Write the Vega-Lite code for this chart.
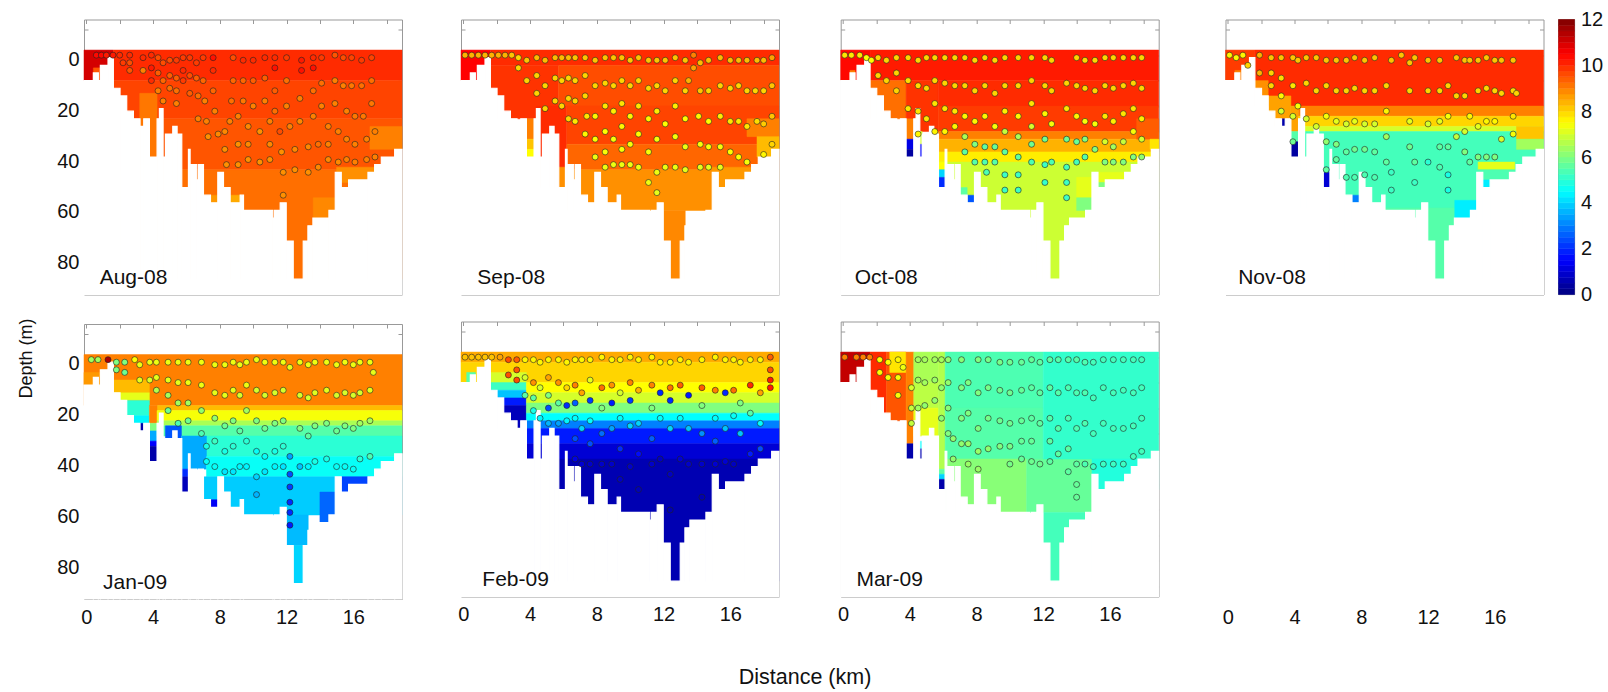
{"$schema":"https://vega.github.io/schema/vega-lite/v6.json","background":"white","padding":{"left":17,"top":8.5,"right":0,"bottom":8},"spacing":61.5,
"title":{"text":"Distance (km)","orient":"bottom","anchor":"middle","offset":39,"dx":-5,"font":"Liberation Sans","fontSize":21.5,"fontWeight":"normal","color":"#111111"},
"config":{"view":{"stroke":null},"font":"Liberation Sans","axis":{"grid":false,"title":null,"domain":true,"domainColor":"#999999","tickColor":"#999999","tickSize":-4,"zindex":1,"labelFont":"Liberation Sans","labelFontSize":20,"labelColor":"#111111","titleFont":"Liberation Sans","titleFontSize":18,"titleFontWeight":"normal","titleColor":"#111111","titleBaseline":"middle"},"axisX":{"tickCount":10,"labelPadding":12,"labelBaseline":"top"},"axisY":{"tickCount":10,"labelPadding":9,"labelOffset":4},"circle":{"size":36,"stroke":"#222222","strokeWidth":0.6,"opacity":1},"text":{"font":"Liberation Sans","fontSize":21,"align":"left","baseline":"alphabetic","color":"#111111"}},
"datasets":{
"bar":[{"a":0,"b":0.25,"v":0.13},{"a":0.25,"b":0.5,"v":0.38},{"a":0.5,"b":0.75,"v":0.63},{"a":0.75,"b":1,"v":0.88},{"a":1,"b":1.25,"v":1.13},{"a":1.25,"b":1.5,"v":1.38},{"a":1.5,"b":1.75,"v":1.63},{"a":1.75,"b":2,"v":1.88},{"a":2,"b":2.25,"v":2.13},{"a":2.25,"b":2.5,"v":2.38},{"a":2.5,"b":2.75,"v":2.63},{"a":2.75,"b":3,"v":2.88},{"a":3,"b":3.25,"v":3.13},{"a":3.25,"b":3.5,"v":3.38},{"a":3.5,"b":3.75,"v":3.63},{"a":3.75,"b":4,"v":3.88},{"a":4,"b":4.25,"v":4.13},{"a":4.25,"b":4.5,"v":4.38},{"a":4.5,"b":4.75,"v":4.63},{"a":4.75,"b":5,"v":4.88},{"a":5,"b":5.25,"v":5.13},{"a":5.25,"b":5.5,"v":5.38},{"a":5.5,"b":5.75,"v":5.63},{"a":5.75,"b":6,"v":5.88},{"a":6,"b":6.25,"v":6.13},{"a":6.25,"b":6.5,"v":6.38},{"a":6.5,"b":6.75,"v":6.63},{"a":6.75,"b":7,"v":6.88},{"a":7,"b":7.25,"v":7.13},{"a":7.25,"b":7.5,"v":7.38},{"a":7.5,"b":7.75,"v":7.63},{"a":7.75,"b":8,"v":7.88},{"a":8,"b":8.25,"v":8.13},{"a":8.25,"b":8.5,"v":8.38},{"a":8.5,"b":8.75,"v":8.63},{"a":8.75,"b":9,"v":8.88},{"a":9,"b":9.25,"v":9.13},{"a":9.25,"b":9.5,"v":9.38},{"a":9.5,"b":9.75,"v":9.63},{"a":9.75,"b":10,"v":9.88},{"a":10,"b":10.25,"v":10.13},{"a":10.25,"b":10.5,"v":10.38},{"a":10.5,"b":10.75,"v":10.63},{"a":10.75,"b":11,"v":10.88},{"a":11,"b":11.25,"v":11.13},{"a":11.25,"b":11.5,"v":11.38},{"a":11.5,"b":11.75,"v":11.63},{"a":11.75,"b":12,"v":11.88}],
"mask":[{"x":-0.14,"x2":0.42,"y":10,"y2":94},{"x":0.42,"x2":0.72,"y":7,"y2":94},{"x":0.72,"x2":0.84,"y":10,"y2":94},{"x":0.84,"x2":1.3,"y":4,"y2":94},{"x":1.3,"x2":1.62,"y":1,"y2":94},{"x":1.62,"x2":2.02,"y":13,"y2":94},{"x":2.02,"x2":2.42,"y":16,"y2":94},{"x":2.42,"x2":2.82,"y":22,"y2":94},{"x":2.82,"x2":3.22,"y":25,"y2":94},{"x":3.22,"x2":3.44,"y":28,"y2":94},{"x":3.44,"x2":3.78,"y":25,"y2":94},{"x":3.78,"x2":4.24,"y":40,"y2":94},{"x":4.24,"x2":4.38,"y":25,"y2":94},{"x":4.38,"x2":4.6,"y":21,"y2":94},{"x":4.6,"x2":4.74,"y":40,"y2":94},{"x":4.74,"x2":5.18,"y":31,"y2":94},{"x":5.18,"x2":5.44,"y":28,"y2":94},{"x":5.44,"x2":5.72,"y":31,"y2":94},{"x":5.72,"x2":6.12,"y":52,"y2":94},{"x":6.12,"x2":6.22,"y":37,"y2":94},{"x":6.22,"x2":6.62,"y":43,"y2":94},{"x":6.62,"x2":6.72,"y":49,"y2":94},{"x":6.72,"x2":7.02,"y":43,"y2":94},{"x":7.02,"x2":7.44,"y":55,"y2":94},{"x":7.44,"x2":7.88,"y":58,"y2":94},{"x":7.88,"x2":8.22,"y":46,"y2":94},{"x":8.22,"x2":8.62,"y":52,"y2":94},{"x":8.62,"x2":9.22,"y":58,"y2":94},{"x":9.22,"x2":9.42,"y":55,"y2":94},{"x":9.42,"x2":11.18,"y":61,"y2":94},{"x":11.18,"x2":11.28,"y":64,"y2":94},{"x":11.28,"x2":11.62,"y":61,"y2":94},{"x":11.62,"x2":11.98,"y":58,"y2":94},{"x":11.98,"x2":12.4,"y":73,"y2":94},{"x":12.4,"x2":13,"y":88,"y2":94},{"x":13,"x2":13.28,"y":73,"y2":94},{"x":13.28,"x2":13.58,"y":67,"y2":94},{"x":13.58,"x2":14.54,"y":64,"y2":94},{"x":14.54,"x2":14.92,"y":61,"y2":94},{"x":14.92,"x2":15.28,"y":46,"y2":94},{"x":15.28,"x2":15.72,"y":52,"y2":94},{"x":15.72,"x2":16.88,"y":49,"y2":94},{"x":16.88,"x2":17.28,"y":46,"y2":94},{"x":17.28,"x2":17.68,"y":43,"y2":94},{"x":17.68,"x2":18.48,"y":40,"y2":94},{"x":18.48,"x2":18.92,"y":37,"y2":94}],
"cells":[
{"p":0,"x":-0.14,"x2":1.62,"y":-2,"y2":10,"v":11},{"p":0,"x":0.42,"x2":0.84,"y":5,"y2":10,"v":9.5},{"p":0,"x":1.62,"x2":18.92,"y":-2,"y2":10,"v":10},{"p":0,"x":1.62,"x2":18.92,"y":10,"y2":25,"v":9.7},{"p":0,"x":1.62,"x2":18.92,"y":25,"y2":45,"v":9.5},{"p":0,"x":1.62,"x2":18.92,"y":45,"y2":88,"v":9.2},{"p":0,"x":3.2,"x2":4.24,"y":15,"y2":40,"v":9.1},{"p":0,"x":15,"x2":17.3,"y":44,"y2":50,"v":8.8},{"p":0,"x":17,"x2":18.92,"y":28,"y2":37,"v":9},{"p":0,"x":7.44,"x2":7.88,"y":55,"y2":58,"v":8.7},{"p":0,"x":8.62,"x2":9.3,"y":55,"y2":58,"v":8.5},{"p":0,"x":13.6,"x2":14.9,"y":56,"y2":64,"v":8.9},
{"p":1,"x":-0.14,"x2":1.62,"y":-2,"y2":10,"v":10.5},{"p":1,"x":1.62,"x2":18.92,"y":-2,"y2":4,"v":10},{"p":1,"x":1.62,"x2":5.7,"y":4,"y2":25,"v":9.9},{"p":1,"x":3.78,"x2":4.24,"y":25,"y2":33,"v":9},{"p":1,"x":3.78,"x2":4.24,"y":33,"y2":37,"v":8.2},{"p":1,"x":3.78,"x2":4.24,"y":37,"y2":40,"v":7.5},{"p":1,"x":4.38,"x2":6.2,"y":20,"y2":52,"v":10},{"p":1,"x":5.72,"x2":6.12,"y":44,"y2":52,"v":8.8},{"p":1,"x":5.7,"x2":18.92,"y":4,"y2":20,"v":9.6},{"p":1,"x":6.2,"x2":18.92,"y":20,"y2":35,"v":9.7},{"p":1,"x":6.2,"x2":18.92,"y":35,"y2":45,"v":9.3},{"p":1,"x":6.2,"x2":18.92,"y":45,"y2":61,"v":8.8},{"p":1,"x":11.98,"x2":13.3,"y":61,"y2":88,"v":8.9},{"p":1,"x":17,"x2":18.92,"y":25,"y2":32,"v":9},{"p":1,"x":17.6,"x2":18.92,"y":32,"y2":40,"v":8.3},{"p":1,"x":14.9,"x2":17.3,"y":44,"y2":52,"v":8.7},
{"p":2,"x":-0.14,"x2":1.62,"y":-2,"y2":10,"v":10.4},{"p":2,"x":0.42,"x2":0.72,"y":6,"y2":10,"v":9},{"p":2,"x":1.62,"x2":18.92,"y":-2,"y2":10,"v":10.2},{"p":2,"x":1.62,"x2":3.78,"y":10,"y2":25,"v":9.2},{"p":2,"x":3.78,"x2":5.7,"y":10,"y2":30,"v":9.9},{"p":2,"x":3.78,"x2":4.24,"y":25,"y2":33,"v":9},{"p":2,"x":3.78,"x2":4.24,"y":33,"y2":37,"v":1.2},{"p":2,"x":3.78,"x2":4.24,"y":37,"y2":40,"v":0.4},{"p":2,"x":4.6,"x2":4.74,"y":30,"y2":35,"v":7},{"p":2,"x":4.6,"x2":4.74,"y":35,"y2":40,"v":1.5},{"p":2,"x":5.7,"x2":18.92,"y":10,"y2":20,"v":10},{"p":2,"x":5.7,"x2":18.92,"y":20,"y2":30,"v":9.8},{"p":2,"x":5.7,"x2":18.92,"y":30,"y2":33,"v":9},{"p":2,"x":5.7,"x2":18.92,"y":33,"y2":38,"v":8.4},{"p":2,"x":5.7,"x2":18.92,"y":38,"y2":42,"v":7.7},{"p":2,"x":5.7,"x2":18.92,"y":42,"y2":88,"v":6.9},{"p":2,"x":5.72,"x2":6.12,"y":42,"y2":45,"v":7.5},{"p":2,"x":5.72,"x2":6.12,"y":45,"y2":48,"v":4},{"p":2,"x":5.72,"x2":6.12,"y":48,"y2":52,"v":2},{"p":2,"x":7.02,"x2":7.44,"y":52,"y2":55,"v":5.6},{"p":2,"x":7.44,"x2":7.88,"y":55,"y2":58,"v":2.5},{"p":2,"x":14,"x2":14.9,"y":48,"y2":56,"v":7.2},{"p":2,"x":14,"x2":14.9,"y":56,"y2":61,"v":6},{"p":2,"x":15.3,"x2":17,"y":46,"y2":50,"v":7.2},{"p":2,"x":15.3,"x2":16.8,"y":50,"y2":52,"v":6},{"p":2,"x":17.6,"x2":18.92,"y":25,"y2":33,"v":9.4},{"p":2,"x":18.4,"x2":18.92,"y":33,"y2":37,"v":7.8},
{"p":3,"x":-0.14,"x2":1.62,"y":-2,"y2":10,"v":9.8},{"p":3,"x":0.42,"x2":0.84,"y":6,"y2":10,"v":9},{"p":3,"x":1.62,"x2":18.92,"y":-2,"y2":20,"v":10},{"p":3,"x":1.62,"x2":2.42,"y":10,"y2":16,"v":8.8},{"p":3,"x":2.42,"x2":3.78,"y":16,"y2":28,"v":8.6},{"p":3,"x":3.22,"x2":3.44,"y":25,"y2":28,"v":0.5},{"p":3,"x":3.78,"x2":4.24,"y":20,"y2":30,"v":8.6},{"p":3,"x":3.78,"x2":4.24,"y":30,"y2":34,"v":5.5},{"p":3,"x":3.78,"x2":4.24,"y":34,"y2":40,"v":0.4},{"p":3,"x":4.6,"x2":4.74,"y":30,"y2":35,"v":5.5},{"p":3,"x":4.6,"x2":4.74,"y":35,"y2":40,"v":0.8},{"p":3,"x":4.24,"x2":18.92,"y":20,"y2":24,"v":9},{"p":3,"x":4.24,"x2":18.92,"y":24,"y2":28,"v":8},{"p":3,"x":4.24,"x2":18.92,"y":28,"y2":30,"v":7},{"p":3,"x":4.24,"x2":18.92,"y":30,"y2":60,"v":5.3},{"p":3,"x":5.72,"x2":18.92,"y":60,"y2":88,"v":5.5},{"p":3,"x":5.72,"x2":6.12,"y":44,"y2":46,"v":4},{"p":3,"x":5.72,"x2":6.12,"y":46,"y2":52,"v":1},{"p":3,"x":7.44,"x2":7.88,"y":55,"y2":58,"v":3},{"p":3,"x":15,"x2":17.2,"y":42,"y2":45,"v":7.2},{"p":3,"x":15,"x2":17.2,"y":45,"y2":49,"v":5.4},{"p":3,"x":15,"x2":15.7,"y":49,"y2":52,"v":4.3},{"p":3,"x":17.3,"x2":18.92,"y":28,"y2":33,"v":8.2},{"p":3,"x":17.3,"x2":18.92,"y":33,"y2":37,"v":6.4},{"p":3,"x":13.6,"x2":15,"y":57,"y2":64,"v":4.3},
{"p":4,"x":-0.14,"x2":18.92,"y":-2,"y2":18,"v":9},{"p":4,"x":-0.14,"x2":1.62,"y":5,"y2":10,"v":8.7},{"p":4,"x":1.62,"x2":3.78,"y":8,"y2":13,"v":8.3},{"p":4,"x":1.62,"x2":3.78,"y":13,"y2":16,"v":7.2},{"p":4,"x":1.62,"x2":3.78,"y":16,"y2":22,"v":5},{"p":4,"x":1.62,"x2":3.78,"y":22,"y2":28,"v":4.4},{"p":4,"x":3.22,"x2":3.44,"y":25,"y2":28,"v":0.5},{"p":4,"x":4.24,"x2":18.92,"y":18,"y2":20,"v":8.3},{"p":4,"x":3.78,"x2":4.24,"y":18,"y2":25,"v":9},{"p":4,"x":3.78,"x2":4.24,"y":25,"y2":28,"v":6},{"p":4,"x":3.78,"x2":4.24,"y":28,"y2":32,"v":3.5},{"p":4,"x":3.78,"x2":4.24,"y":32,"y2":34,"v":1.5},{"p":4,"x":3.78,"x2":4.24,"y":34,"y2":40,"v":0.5},{"p":4,"x":4.24,"x2":18.92,"y":20,"y2":24,"v":7.4},{"p":4,"x":4.24,"x2":18.92,"y":24,"y2":26,"v":6.5},{"p":4,"x":4.24,"x2":18.92,"y":26,"y2":30,"v":5.5},{"p":4,"x":4.74,"x2":5.7,"y":26,"y2":31,"v":2.5},{"p":4,"x":5.72,"x2":18.92,"y":30,"y2":38,"v":5},{"p":4,"x":5.72,"x2":7.2,"y":30,"y2":43,"v":3.5},{"p":4,"x":7.2,"x2":18.92,"y":38,"y2":46,"v":4.6},{"p":4,"x":5.72,"x2":6.12,"y":43,"y2":46,"v":2},{"p":4,"x":5.72,"x2":6.12,"y":46,"y2":52,"v":0.7},{"p":4,"x":7.02,"x2":18.92,"y":46,"y2":61,"v":3.9},{"p":4,"x":7.44,"x2":7.88,"y":55,"y2":58,"v":1.4},{"p":4,"x":14,"x2":14.9,"y":52,"y2":64,"v":2.7},{"p":4,"x":15.3,"x2":17,"y":46,"y2":52,"v":2.3},{"p":4,"x":12,"x2":13.3,"y":61,"y2":73,"v":3.7},{"p":4,"x":12.4,"x2":13,"y":73,"y2":88,"v":4},
{"p":5,"x":-0.14,"x2":18.92,"y":-2,"y2":2,"v":8.5},{"p":5,"x":-0.14,"x2":1.62,"y":2,"y2":10,"v":8},{"p":5,"x":0.2,"x2":0.72,"y":6,"y2":10,"v":5.5},{"p":5,"x":1.62,"x2":18.92,"y":2,"y2":10,"v":8},{"p":5,"x":1.62,"x2":3.78,"y":6,"y2":10,"v":7},{"p":5,"x":1.62,"x2":3.78,"y":10,"y2":13,"v":5.2},{"p":5,"x":1.62,"x2":3.78,"y":13,"y2":16,"v":3.8},{"p":5,"x":1.62,"x2":3.78,"y":16,"y2":19,"v":1.8},{"p":5,"x":1.62,"x2":3.78,"y":19,"y2":28,"v":0.7},{"p":5,"x":3.78,"x2":18.92,"y":10,"y2":14,"v":7.5},{"p":5,"x":3.78,"x2":18.92,"y":14,"y2":18,"v":7},{"p":5,"x":3.78,"x2":18.92,"y":18,"y2":22,"v":6},{"p":5,"x":3.78,"x2":18.92,"y":22,"y2":25,"v":4.5},{"p":5,"x":3.78,"x2":18.92,"y":25,"y2":28,"v":3},{"p":5,"x":3.78,"x2":18.92,"y":28,"y2":34,"v":1.8},{"p":5,"x":3.78,"x2":18.92,"y":34,"y2":40,"v":1},{"p":5,"x":3.78,"x2":18.92,"y":40,"y2":88,"v":0.6},
{"p":6,"x":-0.14,"x2":1.62,"y":-2,"y2":10,"v":11.2},{"p":6,"x":1.62,"x2":2.6,"y":-2,"y2":22,"v":10},{"p":6,"x":2.6,"x2":3.78,"y":-2,"y2":25,"v":9.5},{"p":6,"x":2.8,"x2":3.78,"y":-2,"y2":6,"v":7.8},{"p":6,"x":3.78,"x2":4.24,"y":-2,"y2":34,"v":9},{"p":6,"x":3.78,"x2":4.24,"y":34,"y2":40,"v":0.5},{"p":6,"x":4.24,"x2":5.72,"y":-2,"y2":10,"v":6.5},{"p":6,"x":4.24,"x2":5.72,"y":10,"y2":20,"v":6.7},{"p":6,"x":4.24,"x2":5.72,"y":20,"y2":31,"v":7.2},{"p":6,"x":4.6,"x2":4.74,"y":33,"y2":36,"v":4.5},{"p":6,"x":4.6,"x2":4.74,"y":36,"y2":40,"v":0.6},{"p":6,"x":5.72,"x2":6.12,"y":-2,"y2":44,"v":6.6},{"p":6,"x":5.72,"x2":6.12,"y":44,"y2":46,"v":5.6},{"p":6,"x":5.72,"x2":6.12,"y":46,"y2":48,"v":4},{"p":6,"x":5.72,"x2":6.12,"y":48,"y2":52,"v":0.5},{"p":6,"x":6.12,"x2":12,"y":-2,"y2":20,"v":5.4},{"p":6,"x":6.12,"x2":12,"y":20,"y2":40,"v":5.5},{"p":6,"x":6.12,"x2":11,"y":40,"y2":61,"v":6.1},{"p":6,"x":11,"x2":14.92,"y":40,"y2":61,"v":5.7},{"p":6,"x":12,"x2":18.92,"y":-2,"y2":40,"v":5.1},{"p":6,"x":12,"x2":14.92,"y":61,"y2":88,"v":5.3},{"p":6,"x":14.92,"x2":18.92,"y":40,"y2":52,"v":4.9}
],
"a":[{"x":0.6,"y":0,"v":10.4},{"x":0.9,"y":0,"v":10.4},{"x":1.2,"y":0,"v":10.2},{"x":1.6,"y":0,"v":10.2},{"x":2,"y":0,"v":10},{"x":2.2,"y":3,"v":9.8},{"x":2.6,"y":0,"v":10},{"x":2.6,"y":3,"v":9.6},{"x":2.6,"y":6,"v":9.5},{"x":3.4,"y":1,"v":10},{"x":3.4,"y":6,"v":9},{"x":3.9,"y":0,"v":10},{"x":3.9,"y":5,"v":10.2},{"x":3.9,"y":10,"v":10},{"x":4.3,"y":1,"v":9.6},{"x":4.3,"y":7,"v":9.4},{"x":4.3,"y":14,"v":9},{"x":4.6,"y":3,"v":9.6},{"x":4.6,"y":10,"v":9.3},{"x":4.6,"y":18,"v":9},{"x":5,"y":2,"v":9.6},{"x":5,"y":8,"v":9.4},{"x":5,"y":13,"v":9.2},{"x":5.4,"y":2,"v":9.8},{"x":5.4,"y":9,"v":9.4},{"x":5.4,"y":14,"v":9.2},{"x":5.4,"y":19,"v":9},{"x":5.8,"y":1,"v":9.8},{"x":5.8,"y":6,"v":10},{"x":5.8,"y":10,"v":9.8},{"x":6.2,"y":1,"v":9.8},{"x":6.2,"y":8,"v":9.6},{"x":6.2,"y":15,"v":9.4},{"x":6.6,"y":3,"v":9.8},{"x":6.6,"y":9,"v":9.4},{"x":6.7,"y":16,"v":9.2},{"x":6.7,"y":25,"v":9},{"x":7,"y":1,"v":9.8},{"x":7,"y":10,"v":9.3},{"x":7.1,"y":18,"v":9},{"x":7.2,"y":26,"v":9},{"x":7.3,"y":32,"v":8.8},{"x":7.6,"y":1,"v":10.3},{"x":7.6,"y":6,"v":10},{"x":7.6,"y":14,"v":9.3},{"x":7.7,"y":22,"v":9},{"x":7.9,"y":31,"v":8.9},{"x":8.3,"y":30,"v":8.9},{"x":8.3,"y":37,"v":8.8},{"x":8.4,"y":43,"v":8.8},{"x":8.6,"y":26,"v":9},{"x":8.7,"y":18,"v":9.2},{"x":8.8,"y":10,"v":9.3},{"x":8.8,"y":1,"v":9.6},{"x":9.1,"y":24,"v":9},{"x":9.1,"y":35,"v":8.8},{"x":9.1,"y":43,"v":8.8},{"x":9.4,"y":2,"v":10},{"x":9.4,"y":10,"v":9.3},{"x":9.4,"y":18,"v":9.1},{"x":9.7,"y":28,"v":8.9},{"x":9.7,"y":35,"v":8.9},{"x":9.7,"y":41,"v":8.8},{"x":10,"y":2,"v":10},{"x":10,"y":10,"v":9.4},{"x":10,"y":20,"v":9},{"x":10.4,"y":30,"v":8.8},{"x":10.4,"y":42,"v":8.8},{"x":10.7,"y":1,"v":10},{"x":10.7,"y":9,"v":9.4},{"x":10.7,"y":18,"v":9},{"x":11,"y":26,"v":9},{"x":11,"y":35,"v":8.9},{"x":11,"y":41,"v":8.8},{"x":11.3,"y":1,"v":10},{"x":11.3,"y":5,"v":10.3},{"x":11.3,"y":14,"v":9.4},{"x":11.3,"y":22,"v":9.2},{"x":11.6,"y":30,"v":9.6},{"x":11.7,"y":38,"v":8.8},{"x":11.8,"y":46,"v":8.8},{"x":11.8,"y":55,"v":8.8},{"x":12,"y":1,"v":9.8},{"x":12,"y":10,"v":9.2},{"x":12,"y":20,"v":9},{"x":12.2,"y":28,"v":9},{"x":12.5,"y":37,"v":8.9},{"x":12.5,"y":45,"v":8.8},{"x":12.9,"y":2,"v":10.2},{"x":12.9,"y":6,"v":10.3},{"x":12.8,"y":17,"v":9},{"x":12.8,"y":26,"v":8.9},{"x":13.3,"y":36,"v":8.9},{"x":13.3,"y":46,"v":8.8},{"x":13.6,"y":1,"v":10},{"x":13.6,"y":5,"v":10.3},{"x":13.6,"y":14,"v":9.2},{"x":13.6,"y":24,"v":9},{"x":13.9,"y":35,"v":9.2},{"x":13.9,"y":44,"v":8.9},{"x":14.1,"y":1,"v":9.8},{"x":14.1,"y":11,"v":9.2},{"x":14.1,"y":20,"v":9},{"x":14.5,"y":28,"v":9},{"x":14.5,"y":35,"v":9},{"x":14.5,"y":41,"v":8.9},{"x":14.9,"y":0,"v":9.5},{"x":14.9,"y":10,"v":9},{"x":14.9,"y":19,"v":9},{"x":15.1,"y":30,"v":9},{"x":15.1,"y":42,"v":8.9},{"x":15.4,"y":1,"v":9.6},{"x":15.4,"y":12,"v":9},{"x":15.6,"y":22,"v":9},{"x":15.6,"y":33,"v":9},{"x":15.6,"y":41,"v":9},{"x":15.9,"y":1,"v":9.7},{"x":15.9,"y":12,"v":9.1},{"x":16.1,"y":24,"v":9.1},{"x":16.1,"y":35,"v":9},{"x":16.1,"y":42,"v":9},{"x":16.5,"y":2,"v":9.8},{"x":16.5,"y":12,"v":9.2},{"x":16.6,"y":24,"v":9.1},{"x":16.8,"y":33,"v":9},{"x":16.8,"y":41,"v":9},{"x":17.1,"y":1,"v":9.7},{"x":17.1,"y":10,"v":9.2},{"x":17.1,"y":19,"v":9.1},{"x":17.3,"y":30,"v":9},{"x":17.3,"y":40,"v":9}],
"b":[{"x":0.1,"y":0,"v":8.4},{"x":0.5,"y":0,"v":8.4},{"x":0.9,"y":0,"v":8.4},{"x":1.3,"y":0,"v":8.4},{"x":1.7,"y":0,"v":8.4},{"x":2.1,"y":0,"v":8.4},{"x":2.5,"y":0,"v":8.4},{"x":2.9,"y":0,"v":8.2},{"x":3.3,"y":1,"v":8},{"x":3.3,"y":5,"v":8},{"x":3.8,"y":2,"v":8.2},{"x":3.8,"y":10,"v":8},{"x":4.4,"y":1,"v":8.3},{"x":4.4,"y":8,"v":8},{"x":4.4,"y":15,"v":8},{"x":4.9,"y":2,"v":8.3},{"x":4.9,"y":12,"v":8},{"x":4.9,"y":21,"v":8},{"x":5.5,"y":1,"v":8.3},{"x":5.5,"y":9,"v":8},{"x":5.5,"y":18,"v":8},{"x":5.9,"y":1,"v":8.3},{"x":5.9,"y":10,"v":8},{"x":5.9,"y":20,"v":8},{"x":6.3,"y":1,"v":8.3},{"x":6.3,"y":9,"v":8},{"x":6.3,"y":17,"v":8},{"x":6.3,"y":25,"v":8},{"x":6.7,"y":1,"v":8.2},{"x":6.7,"y":10,"v":8},{"x":6.7,"y":18,"v":8},{"x":6.7,"y":26,"v":7.8},{"x":7.3,"y":1,"v":8.2},{"x":7.3,"y":8,"v":8},{"x":7.3,"y":16,"v":8},{"x":7.4,"y":24,"v":7.8},{"x":7.3,"y":31,"v":7.6},{"x":7.9,"y":2,"v":8.2},{"x":7.9,"y":12,"v":8},{"x":7.9,"y":24,"v":7.6},{"x":7.9,"y":33,"v":7.5},{"x":7.9,"y":40,"v":7.3},{"x":8.5,"y":1,"v":8.2},{"x":8.5,"y":11,"v":8},{"x":8.5,"y":20,"v":7.8},{"x":8.5,"y":30,"v":7.5},{"x":8.5,"y":38,"v":7.4},{"x":8.5,"y":44,"v":7.3},{"x":9,"y":1,"v":8.2},{"x":9,"y":12,"v":8},{"x":9,"y":22,"v":7.7},{"x":9,"y":33,"v":7.4},{"x":9,"y":43,"v":7.3},{"x":9.5,"y":1,"v":8.2},{"x":9.5,"y":10,"v":8},{"x":9.5,"y":19,"v":7.8},{"x":9.5,"y":28,"v":7.6},{"x":9.5,"y":37,"v":7.4},{"x":9.5,"y":43,"v":7.3},{"x":10,"y":2,"v":8.2},{"x":10,"y":12,"v":8},{"x":10,"y":24,"v":7.6},{"x":10,"y":35,"v":7.4},{"x":10,"y":43,"v":7.3},{"x":10.5,"y":1,"v":8.2},{"x":10.5,"y":10,"v":8},{"x":10.5,"y":20,"v":7.8},{"x":10.5,"y":31,"v":7.5},{"x":10.5,"y":44,"v":7.3},{"x":11.1,"y":2,"v":8.2},{"x":11.1,"y":13,"v":8},{"x":11.1,"y":25,"v":7.6},{"x":11.1,"y":38,"v":7.4},{"x":11.1,"y":50,"v":7.3},{"x":11.6,"y":2,"v":8.2},{"x":11.6,"y":12,"v":8},{"x":11.6,"y":22,"v":7.7},{"x":11.6,"y":33,"v":7.4},{"x":11.6,"y":46,"v":7.3},{"x":11.6,"y":54,"v":7.2},{"x":12.1,"y":2,"v":8.2},{"x":12.1,"y":14,"v":8},{"x":12.1,"y":27,"v":7.5},{"x":12.1,"y":44,"v":7.3},{"x":12.7,"y":1,"v":8.2},{"x":12.7,"y":10,"v":8},{"x":12.7,"y":20,"v":7.7},{"x":12.7,"y":32,"v":7.4},{"x":12.7,"y":44,"v":7.3},{"x":13.3,"y":2,"v":8.2},{"x":13.3,"y":14,"v":8},{"x":13.3,"y":25,"v":7.5},{"x":13.3,"y":36,"v":7.3},{"x":13.3,"y":45,"v":7.2},{"x":13.8,"y":0,"v":9},{"x":13.8,"y":5,"v":8.6},{"x":13.5,"y":10,"v":8.4},{"x":14.2,"y":3,"v":8.3},{"x":14.2,"y":14,"v":8.2},{"x":14.1,"y":24,"v":7.6},{"x":14.2,"y":35,"v":7.4},{"x":14.2,"y":44,"v":7.2},{"x":14.7,"y":2,"v":8.3},{"x":14.7,"y":14,"v":8},{"x":14.7,"y":26,"v":7.5},{"x":14.7,"y":36,"v":7.4},{"x":14.7,"y":44,"v":7.2},{"x":15.4,"y":1,"v":8.3},{"x":15.4,"y":12,"v":8},{"x":15.4,"y":24,"v":7.7},{"x":15.4,"y":36,"v":7.4},{"x":15.4,"y":44,"v":7.2},{"x":16,"y":2,"v":8.3},{"x":16,"y":13,"v":8},{"x":16,"y":26,"v":7.8},{"x":16,"y":38,"v":7.5},{"x":16.5,"y":2,"v":8.3},{"x":16.5,"y":12,"v":8},{"x":16.5,"y":26,"v":7.8},{"x":16.5,"y":40,"v":7.5},{"x":17,"y":2,"v":8.3},{"x":17,"y":14,"v":8},{"x":17,"y":28,"v":7.8},{"x":17,"y":42,"v":7.4},{"x":17.6,"y":2,"v":8.3},{"x":17.5,"y":14,"v":8},{"x":17.6,"y":26,"v":7.9},{"x":18,"y":2,"v":8.3},{"x":18,"y":14,"v":8},{"x":18,"y":27,"v":8.1},{"x":18,"y":39,"v":7.6},{"x":18.5,"y":1,"v":8.6},{"x":18.5,"y":12,"v":8.2},{"x":18.5,"y":24,"v":8.2},{"x":18.5,"y":35,"v":8}],
"c":[{"x":0.1,"y":0,"v":7.8},{"x":0.5,"y":0,"v":7.8},{"x":1,"y":0,"v":7.8},{"x":1.4,"y":1,"v":7.5},{"x":1.7,"y":2,"v":7.5},{"x":2.1,"y":1,"v":8},{"x":2.1,"y":8,"v":8},{"x":2.6,"y":2,"v":8},{"x":2.6,"y":10,"v":8},{"x":3.2,"y":1,"v":8},{"x":3.2,"y":7,"v":8},{"x":3.2,"y":14,"v":8},{"x":3.9,"y":1,"v":8},{"x":3.9,"y":10,"v":7.9},{"x":3.9,"y":21,"v":7.8},{"x":4.5,"y":2,"v":8},{"x":4.5,"y":12,"v":7.9},{"x":4.5,"y":22,"v":7.8},{"x":4.5,"y":31,"v":7.6},{"x":5,"y":1,"v":8},{"x":5,"y":13,"v":8},{"x":5,"y":25,"v":7.8},{"x":5.5,"y":1,"v":8},{"x":5.5,"y":10,"v":8},{"x":5.5,"y":19,"v":7.8},{"x":5.5,"y":30,"v":7.6},{"x":6.1,"y":1,"v":8},{"x":6.1,"y":11,"v":8},{"x":6.1,"y":21,"v":7.8},{"x":6.1,"y":30,"v":7.6},{"x":6.7,"y":1,"v":8},{"x":6.7,"y":12,"v":8},{"x":6.7,"y":22,"v":7.8},{"x":6.7,"y":28,"v":7.6},{"x":7.3,"y":1,"v":8},{"x":7.3,"y":12,"v":8},{"x":7.3,"y":24,"v":7.6},{"x":7.3,"y":32,"v":6.5},{"x":7.3,"y":38,"v":5.6},{"x":7.9,"y":2,"v":8},{"x":7.9,"y":14,"v":8},{"x":7.9,"y":26,"v":7.6},{"x":7.9,"y":35,"v":6},{"x":7.9,"y":42,"v":5.5},{"x":8.5,"y":1,"v":8},{"x":8.5,"y":12,"v":8},{"x":8.5,"y":24,"v":7.6},{"x":8.5,"y":36,"v":5.6},{"x":8.5,"y":42,"v":5.4},{"x":8.6,"y":46,"v":5.4},{"x":9.1,"y":2,"v":8},{"x":9.1,"y":15,"v":8},{"x":9.1,"y":28,"v":7.4},{"x":9.1,"y":36,"v":5.7},{"x":9.1,"y":42,"v":5.5},{"x":9.7,"y":1,"v":8},{"x":9.7,"y":12,"v":8},{"x":9.7,"y":22,"v":7.7},{"x":9.7,"y":30,"v":6.8},{"x":9.7,"y":38,"v":5.6},{"x":9.7,"y":47,"v":5.2},{"x":9.7,"y":53,"v":5.2},{"x":10.5,"y":1,"v":8},{"x":10.5,"y":12,"v":8},{"x":10.5,"y":24,"v":7.6},{"x":10.5,"y":32,"v":6.5},{"x":10.5,"y":40,"v":5.6},{"x":10.5,"y":47,"v":5.2},{"x":10.5,"y":53,"v":5.2},{"x":11.3,"y":1,"v":8},{"x":11.3,"y":10,"v":8},{"x":11.3,"y":19,"v":7.8},{"x":11.3,"y":28,"v":7},{"x":11.3,"y":35,"v":5.8},{"x":11.3,"y":42,"v":5.4},{"x":12.1,"y":1,"v":8},{"x":12.1,"y":12,"v":8},{"x":12.1,"y":23,"v":7.6},{"x":12.1,"y":33,"v":5.8},{"x":12.1,"y":43,"v":5.2},{"x":12.1,"y":50,"v":5.1},{"x":12.5,"y":2,"v":8},{"x":12.5,"y":14,"v":8},{"x":12.5,"y":27,"v":7.4},{"x":12.5,"y":42,"v":5.4},{"x":13.4,"y":11,"v":8},{"x":13.4,"y":21,"v":7.8},{"x":13.4,"y":33,"v":5.8},{"x":13.4,"y":44,"v":5.3},{"x":13.4,"y":50,"v":5.2},{"x":13.4,"y":56,"v":5.2},{"x":14,"y":1,"v":8},{"x":14,"y":12,"v":8},{"x":14,"y":24,"v":7.6},{"x":14,"y":34,"v":5.7},{"x":14,"y":42,"v":5.3},{"x":14.5,"y":2,"v":8},{"x":14.5,"y":13,"v":8},{"x":14.5,"y":26,"v":7.4},{"x":14.5,"y":33,"v":6},{"x":14.5,"y":40,"v":5.5},{"x":15.1,"y":2,"v":8},{"x":15.1,"y":14,"v":8},{"x":15.1,"y":27,"v":7.4},{"x":15.1,"y":37,"v":6},{"x":15.7,"y":1,"v":8},{"x":15.7,"y":12,"v":8},{"x":15.7,"y":24,"v":7.8},{"x":15.7,"y":34,"v":7},{"x":15.7,"y":42,"v":6},{"x":16.2,"y":1,"v":8},{"x":16.2,"y":13,"v":8},{"x":16.2,"y":26,"v":7.7},{"x":16.2,"y":36,"v":6.4},{"x":16.2,"y":42,"v":6},{"x":16.8,"y":1,"v":8},{"x":16.8,"y":12,"v":8},{"x":16.8,"y":23,"v":7.8},{"x":16.8,"y":34,"v":6.8},{"x":16.8,"y":42,"v":6},{"x":17.4,"y":1,"v":8},{"x":17.4,"y":11,"v":8},{"x":17.4,"y":21,"v":7.8},{"x":17.4,"y":30,"v":7.4},{"x":17.4,"y":40,"v":6},{"x":17.9,"y":1,"v":8},{"x":17.9,"y":13,"v":8},{"x":17.9,"y":25,"v":7.7},{"x":17.9,"y":33,"v":7},{"x":17.9,"y":40,"v":6.2}],
"d":[{"x":0.1,"y":0,"v":7.6},{"x":0.5,"y":1,"v":7.6},{"x":0.9,"y":0,"v":7.6},{"x":1.2,"y":4,"v":8},{"x":1.9,"y":0,"v":8.4},{"x":1.9,"y":7,"v":8.4},{"x":2.6,"y":1,"v":8.2},{"x":2.6,"y":7,"v":8},{"x":2.6,"y":12,"v":8},{"x":3.2,"y":1,"v":8.2},{"x":3.2,"y":9,"v":7.9},{"x":3.2,"y":16,"v":7.6},{"x":3.2,"y":22,"v":7},{"x":3.9,"y":1,"v":8.2},{"x":3.9,"y":12,"v":7.8},{"x":3.9,"y":24,"v":7},{"x":3.9,"y":34,"v":5.8},{"x":4.2,"y":2,"v":8.2},{"x":4.2,"y":20,"v":7.4},{"x":4.7,"y":1,"v":8.2},{"x":4.7,"y":11,"v":8},{"x":4.7,"y":25,"v":7},{"x":5.3,"y":1,"v":8.2},{"x":5.3,"y":14,"v":8},{"x":5.3,"y":28,"v":7},{"x":5.9,"y":2,"v":8.2},{"x":5.9,"y":12,"v":8},{"x":5.9,"y":24,"v":7.4},{"x":5.9,"y":34,"v":6.2},{"x":5.9,"y":45,"v":5.6},{"x":6.5,"y":2,"v":8.2},{"x":6.5,"y":14,"v":8},{"x":6.5,"y":26,"v":7.2},{"x":6.5,"y":35,"v":6},{"x":6.5,"y":41,"v":5.6},{"x":7.1,"y":2,"v":8.2},{"x":7.1,"y":14,"v":8},{"x":7.1,"y":27,"v":7},{"x":7.1,"y":38,"v":5.6},{"x":7.1,"y":48,"v":5.4},{"x":7.6,"y":1,"v":8.2},{"x":7.6,"y":13,"v":8},{"x":7.6,"y":26,"v":7.2},{"x":7.6,"y":37,"v":5.8},{"x":7.6,"y":48,"v":5.4},{"x":8.2,"y":2,"v":8.2},{"x":8.2,"y":14,"v":8},{"x":8.2,"y":27,"v":7},{"x":8.2,"y":37,"v":5.8},{"x":8.2,"y":47,"v":5.4},{"x":8.8,"y":1,"v":8.2},{"x":8.8,"y":14,"v":8},{"x":8.8,"y":27,"v":7},{"x":8.8,"y":38,"v":5.6},{"x":8.8,"y":48,"v":5.4},{"x":9.5,"y":12,"v":8},{"x":9.5,"y":22,"v":7.6},{"x":9.5,"y":32,"v":6.4},{"x":9.5,"y":42,"v":5.6},{"x":9.8,"y":2,"v":8.2},{"x":9.8,"y":46,"v":5.2},{"x":9.8,"y":53,"v":5.2},{"x":10.4,"y":0,"v":8.2},{"x":10.9,"y":3,"v":8.2},{"x":10.9,"y":14,"v":8},{"x":10.9,"y":26,"v":7.2},{"x":10.9,"y":36,"v":5.8},{"x":11.2,"y":1,"v":8.2},{"x":11.2,"y":42,"v":5.6},{"x":11.2,"y":50,"v":5.2},{"x":12,"y":2,"v":8.2},{"x":12,"y":14,"v":8},{"x":12,"y":27,"v":7},{"x":12,"y":42,"v":5},{"x":12.7,"y":2,"v":8.2},{"x":12.7,"y":14,"v":8},{"x":12.7,"y":26,"v":7.2},{"x":12.7,"y":36,"v":5.6},{"x":12.7,"y":44,"v":5.4},{"x":13.2,"y":12,"v":8},{"x":13.2,"y":24,"v":7.4},{"x":13.2,"y":36,"v":5.6},{"x":13.2,"y":47,"v":4.8},{"x":13.2,"y":53,"v":4.8},{"x":13.7,"y":1,"v":8.2},{"x":13.7,"y":16,"v":8},{"x":13.7,"y":32,"v":6.8},{"x":14.2,"y":2,"v":8.2},{"x":14.2,"y":16,"v":8},{"x":14.2,"y":30,"v":7},{"x":14.2,"y":38,"v":6},{"x":14.5,"y":2,"v":8.2},{"x":14.5,"y":24,"v":7.6},{"x":14.5,"y":42,"v":5.6},{"x":15,"y":2,"v":8.2},{"x":15,"y":14,"v":8},{"x":15,"y":28,"v":7.2},{"x":15,"y":40,"v":6},{"x":15.5,"y":1,"v":8.2},{"x":15.5,"y":13,"v":8},{"x":15.5,"y":26,"v":7.6},{"x":15.5,"y":40,"v":6},{"x":16,"y":2,"v":8.2},{"x":16,"y":14,"v":8},{"x":16,"y":26,"v":7.6},{"x":16,"y":40,"v":6},{"x":16.4,"y":2,"v":8.2},{"x":16.4,"y":15,"v":8},{"x":16.4,"y":33,"v":7},{"x":17.1,"y":2,"v":8.2},{"x":17.1,"y":14,"v":8},{"x":17.1,"y":24,"v":7.8},{"x":17.1,"y":31,"v":7.4},{"x":17.3,"y":15,"v":8}],
"e":[{"x":0.3,"y":0,"v":6.4},{"x":0.7,"y":0,"v":6.4},{"x":1.3,"y":0,"v":11.5},{"x":1.8,"y":1,"v":6},{"x":1.8,"y":4,"v":6},{"x":2.3,"y":1,"v":6},{"x":2.3,"y":5,"v":5.8},{"x":2.9,"y":0,"v":7.5},{"x":3.2,"y":2,"v":7.3},{"x":3.2,"y":8,"v":7.2},{"x":3.8,"y":1,"v":7.3},{"x":3.8,"y":8,"v":7.1},{"x":4.2,"y":1,"v":7.3},{"x":4.2,"y":7,"v":7.2},{"x":4.2,"y":12,"v":6.6},{"x":4.9,"y":1,"v":7.3},{"x":4.9,"y":8,"v":7.2},{"x":4.9,"y":14,"v":6.4},{"x":4.9,"y":20,"v":5.8},{"x":5.5,"y":1,"v":7.3},{"x":5.5,"y":9,"v":7.2},{"x":5.5,"y":17,"v":6.4},{"x":5.5,"y":25,"v":5.4},{"x":6.1,"y":1,"v":7.3},{"x":6.1,"y":9,"v":7.3},{"x":6.1,"y":17,"v":6.4},{"x":6.1,"y":24,"v":5.8},{"x":6.9,"y":1,"v":7.3},{"x":6.9,"y":10,"v":7.3},{"x":6.9,"y":20,"v":6.2},{"x":6.9,"y":29,"v":5.4},{"x":7.2,"y":34,"v":4.8},{"x":7.2,"y":40,"v":4.6},{"x":7.7,"y":2,"v":7.3},{"x":7.7,"y":13,"v":7.2},{"x":7.7,"y":23,"v":6.2},{"x":7.7,"y":32,"v":5.2},{"x":7.7,"y":42,"v":4.6},{"x":8.3,"y":2,"v":7.3},{"x":8.3,"y":14,"v":7.2},{"x":8.3,"y":26,"v":5.8},{"x":8.3,"y":36,"v":4.8},{"x":8.3,"y":44,"v":4.2},{"x":8.8,"y":1,"v":7.3},{"x":8.8,"y":12,"v":7.2},{"x":8.8,"y":24,"v":6},{"x":8.8,"y":34,"v":5},{"x":8.8,"y":44,"v":4.2},{"x":9.2,"y":2,"v":7.3},{"x":9.2,"y":14,"v":7},{"x":9.2,"y":28,"v":5.6},{"x":9.2,"y":42,"v":4.4},{"x":9.6,"y":1,"v":7.3},{"x":9.6,"y":10,"v":7.3},{"x":9.6,"y":20,"v":6.4},{"x":9.6,"y":32,"v":5},{"x":9.6,"y":42,"v":4.4},{"x":10.2,"y":0,"v":7.3},{"x":10.2,"y":12,"v":7},{"x":10.2,"y":24,"v":6},{"x":10.2,"y":36,"v":4.6},{"x":10.2,"y":46,"v":4},{"x":10.2,"y":53,"v":3.6},{"x":10.7,"y":1,"v":7.3},{"x":10.7,"y":14,"v":7},{"x":10.7,"y":27,"v":5.8},{"x":10.7,"y":38,"v":4.6},{"x":10.7,"y":44,"v":4.2},{"x":11.3,"y":1,"v":7.3},{"x":11.3,"y":13,"v":7},{"x":11.3,"y":25,"v":6},{"x":11.3,"y":36,"v":4.8},{"x":11.3,"y":42,"v":4.4},{"x":11.8,"y":1,"v":7.3},{"x":11.8,"y":12,"v":7},{"x":11.8,"y":24,"v":6},{"x":11.8,"y":34,"v":5},{"x":11.8,"y":42,"v":4.2},{"x":12.2,"y":3,"v":7.2},{"x":12.2,"y":38,"v":3.4},{"x":12.2,"y":45,"v":2.4},{"x":12.2,"y":50,"v":2.2},{"x":12.2,"y":56,"v":2},{"x":12.2,"y":60,"v":2},{"x":12.2,"y":65,"v":1.8},{"x":12.8,"y":1,"v":7.3},{"x":12.8,"y":14,"v":7},{"x":12.8,"y":27,"v":6},{"x":12.8,"y":42,"v":3.8},{"x":13.3,"y":2,"v":7.3},{"x":13.3,"y":15,"v":7},{"x":13.3,"y":30,"v":5.6},{"x":13.3,"y":42,"v":4.4},{"x":13.7,"y":1,"v":7.3},{"x":13.7,"y":13,"v":7.1},{"x":13.7,"y":26,"v":6},{"x":13.7,"y":40,"v":4.8},{"x":14.4,"y":1,"v":7.3},{"x":14.4,"y":12,"v":7.2},{"x":14.4,"y":25,"v":6},{"x":14.4,"y":39,"v":4.8},{"x":15,"y":2,"v":7.3},{"x":15,"y":14,"v":7},{"x":15,"y":28,"v":5.8},{"x":15,"y":42,"v":4.6},{"x":15.5,"y":1,"v":7.3},{"x":15.5,"y":13,"v":7},{"x":15.5,"y":26,"v":6},{"x":15.5,"y":42,"v":4.6},{"x":16,"y":2,"v":7.3},{"x":16,"y":14,"v":7},{"x":16,"y":27,"v":6},{"x":16,"y":43,"v":4.6},{"x":16.4,"y":1,"v":7.3},{"x":16.4,"y":13,"v":7},{"x":16.4,"y":25,"v":6.4},{"x":16.4,"y":39,"v":5},{"x":17,"y":1,"v":7.3},{"x":17,"y":12,"v":7.2},{"x":17,"y":24,"v":6.4},{"x":17,"y":38,"v":5.4},{"x":17.2,"y":5,"v":7.2}],
"f":[{"x":0.1,"y":0,"v":8.2},{"x":0.5,"y":0,"v":8.2},{"x":0.9,"y":0,"v":8.2},{"x":1.3,"y":0,"v":8.2},{"x":1.7,"y":0,"v":8.2},{"x":2.2,"y":0,"v":8.6},{"x":2.7,"y":1,"v":9.6},{"x":2.7,"y":7,"v":9.6},{"x":3.2,"y":1,"v":9.4},{"x":3.2,"y":5,"v":9.5},{"x":3.2,"y":9,"v":9.6},{"x":3.7,"y":1,"v":7.6},{"x":3.7,"y":8,"v":7},{"x":3.7,"y":15,"v":5.6},{"x":4.2,"y":1,"v":7.6},{"x":4.2,"y":10,"v":8.8},{"x":4.2,"y":16,"v":5.6},{"x":4.2,"y":21,"v":4.8},{"x":4.6,"y":2,"v":7.6},{"x":4.6,"y":12,"v":7},{"x":4.6,"y":24,"v":4.4},{"x":5.1,"y":1,"v":7.6},{"x":5.1,"y":8,"v":8.6},{"x":5.1,"y":15,"v":6},{"x":5.1,"y":20,"v":2.4},{"x":5.1,"y":26,"v":3.6},{"x":5.7,"y":1,"v":7.6},{"x":5.7,"y":10,"v":8.8},{"x":5.7,"y":18,"v":5.6},{"x":5.7,"y":26,"v":3.4},{"x":6.2,"y":2,"v":7.6},{"x":6.2,"y":12,"v":8},{"x":6.2,"y":19,"v":2},{"x":6.2,"y":25,"v":4.4},{"x":6.7,"y":1,"v":7.6},{"x":6.7,"y":11,"v":9},{"x":6.7,"y":18,"v":2.6},{"x":6.7,"y":24,"v":4.5},{"x":6.7,"y":32,"v":2.4},{"x":6.7,"y":40,"v":1.2},{"x":7.1,"y":1,"v":7.6},{"x":7.1,"y":14,"v":8.6},{"x":7.1,"y":28,"v":4},{"x":7.1,"y":42,"v":1},{"x":7.6,"y":1,"v":7.6},{"x":7.6,"y":9,"v":7.2},{"x":7.6,"y":17,"v":2.2},{"x":7.6,"y":25,"v":4.5},{"x":7.6,"y":34,"v":2.4},{"x":7.6,"y":42,"v":0.9},{"x":8.3,"y":0,"v":7.6},{"x":8.3,"y":12,"v":9.2},{"x":8.3,"y":20,"v":6},{"x":8.3,"y":30,"v":2.8},{"x":8.3,"y":42,"v":0.9},{"x":8.9,"y":1,"v":7.6},{"x":8.9,"y":11,"v":8.8},{"x":8.9,"y":18,"v":1.8},{"x":8.9,"y":28,"v":3.4},{"x":8.9,"y":42,"v":0.9},{"x":9.4,"y":1,"v":7.6},{"x":9.4,"y":14,"v":7},{"x":9.4,"y":24,"v":4.5},{"x":9.4,"y":36,"v":2},{"x":9.4,"y":48,"v":0.8},{"x":10,"y":0,"v":7.6},{"x":10,"y":10,"v":9},{"x":10,"y":17,"v":2.2},{"x":10,"y":27,"v":4},{"x":10,"y":43,"v":0.9},{"x":10.5,"y":1,"v":7.6},{"x":10.5,"y":13,"v":8.4},{"x":10.5,"y":26,"v":4},{"x":10.5,"y":38,"v":1.6},{"x":10.5,"y":52,"v":0.7},{"x":11.3,"y":0,"v":7.6},{"x":11.3,"y":11,"v":9},{"x":11.3,"y":20,"v":6},{"x":11.3,"y":32,"v":2.6},{"x":11.3,"y":42,"v":0.9},{"x":11.8,"y":2,"v":7.6},{"x":11.8,"y":14,"v":2},{"x":11.8,"y":24,"v":4.5},{"x":11.8,"y":40,"v":0.8},{"x":12.4,"y":2,"v":7.6},{"x":12.4,"y":12,"v":9.2},{"x":12.4,"y":17,"v":2},{"x":12.4,"y":28,"v":4},{"x":12.4,"y":46,"v":0.8},{"x":12.4,"y":60,"v":0.6},{"x":13,"y":1,"v":7.6},{"x":13,"y":11,"v":9.4},{"x":13,"y":24,"v":4.5},{"x":13,"y":40,"v":1},{"x":13.5,"y":2,"v":7.6},{"x":13.5,"y":15,"v":1.8},{"x":13.5,"y":28,"v":3.8},{"x":13.5,"y":42,"v":0.9},{"x":14.3,"y":1,"v":7.6},{"x":14.3,"y":12,"v":9.4},{"x":14.3,"y":19,"v":6},{"x":14.3,"y":30,"v":3.2},{"x":14.3,"y":42,"v":0.9},{"x":14.3,"y":55,"v":0.6},{"x":15.1,"y":0,"v":7.6},{"x":15.1,"y":13,"v":9},{"x":15.1,"y":24,"v":4.5},{"x":15.1,"y":33,"v":2.6},{"x":15.1,"y":42,"v":1},{"x":15.7,"y":1,"v":7.6},{"x":15.7,"y":14,"v":2},{"x":15.7,"y":28,"v":3.8},{"x":15.7,"y":41,"v":1},{"x":16.2,"y":1,"v":7.6},{"x":16.2,"y":13,"v":9.2},{"x":16.2,"y":23,"v":4.6},{"x":16.2,"y":42,"v":0.8},{"x":16.6,"y":2,"v":7.6},{"x":16.6,"y":18,"v":6},{"x":16.6,"y":30,"v":3.8},{"x":17.2,"y":1,"v":7.6},{"x":17.2,"y":11,"v":10},{"x":17.2,"y":22,"v":5.5},{"x":17.2,"y":38,"v":1.8},{"x":17.8,"y":1,"v":7.6},{"x":17.8,"y":14,"v":8.6},{"x":17.8,"y":26,"v":4.5},{"x":17.8,"y":36,"v":2.4},{"x":18.4,"y":0,"v":9.4},{"x":18.4,"y":5,"v":9.6},{"x":18.4,"y":9,"v":10.2},{"x":18.4,"y":12,"v":10.2}],
"g":[{"x":0.1,"y":0,"v":9},{"x":0.8,"y":0,"v":9},{"x":1.2,"y":0,"v":9},{"x":1.6,"y":0,"v":9},{"x":2.2,"y":1,"v":7.5},{"x":2.2,"y":6,"v":7.5},{"x":2.7,"y":2,"v":7.5},{"x":2.7,"y":8,"v":7.4},{"x":3.3,"y":1,"v":7.6},{"x":3.3,"y":8,"v":7.4},{"x":3.3,"y":15,"v":7.4},{"x":3.6,"y":4,"v":7.3},{"x":4.1,"y":12,"v":7},{"x":4.1,"y":20,"v":6.8},{"x":4.1,"y":26,"v":6.8},{"x":4.5,"y":1,"v":6.4},{"x":4.5,"y":9,"v":6.4},{"x":4.5,"y":20,"v":6.4},{"x":4.9,"y":1,"v":6.4},{"x":4.9,"y":10,"v":6.4},{"x":4.9,"y":19,"v":6.2},{"x":5.5,"y":1,"v":6.4},{"x":5.5,"y":9,"v":6.3},{"x":5.5,"y":17,"v":6.2},{"x":5.9,"y":1,"v":6.4},{"x":5.9,"y":12,"v":6.2},{"x":5.9,"y":24,"v":6.1},{"x":6.3,"y":1,"v":6.2},{"x":6.3,"y":10,"v":6.2},{"x":6.3,"y":20,"v":6.1},{"x":6.3,"y":30,"v":6},{"x":6.6,"y":32,"v":6.2},{"x":6.6,"y":40,"v":6.2},{"x":7.1,"y":1,"v":6.1},{"x":7.1,"y":12,"v":6},{"x":7.1,"y":24,"v":6},{"x":7.1,"y":34,"v":6.2},{"x":7.5,"y":10,"v":6},{"x":7.5,"y":22,"v":6},{"x":7.5,"y":34,"v":6.3},{"x":7.5,"y":42,"v":6.3},{"x":8.1,"y":1,"v":6},{"x":8.1,"y":14,"v":6},{"x":8.1,"y":28,"v":6},{"x":8.1,"y":37,"v":6.3},{"x":8.1,"y":44,"v":6.3},{"x":8.7,"y":1,"v":5.9},{"x":8.7,"y":12,"v":5.9},{"x":8.7,"y":24,"v":5.9},{"x":8.7,"y":36,"v":6.2},{"x":9.4,"y":2,"v":5.9},{"x":9.4,"y":13,"v":5.8},{"x":9.4,"y":25,"v":5.8},{"x":9.4,"y":35,"v":6},{"x":10,"y":2,"v":5.8},{"x":10,"y":14,"v":5.8},{"x":10,"y":26,"v":5.8},{"x":10,"y":35,"v":5.9},{"x":10,"y":42,"v":5.9},{"x":10.7,"y":2,"v":5.7},{"x":10.7,"y":13,"v":5.7},{"x":10.7,"y":25,"v":5.7},{"x":10.7,"y":33,"v":5.7},{"x":10.7,"y":40,"v":5.7},{"x":11.3,"y":1,"v":5.7},{"x":11.3,"y":12,"v":5.6},{"x":11.3,"y":24,"v":5.6},{"x":11.3,"y":33,"v":5.7},{"x":11.3,"y":41,"v":5.8},{"x":11.8,"y":2,"v":5.6},{"x":11.8,"y":14,"v":5.6},{"x":11.8,"y":26,"v":5.6},{"x":11.8,"y":42,"v":5.8},{"x":12.4,"y":1,"v":5.6},{"x":12.4,"y":12,"v":5.6},{"x":12.4,"y":24,"v":5.5},{"x":12.4,"y":33,"v":5.6},{"x":12.4,"y":41,"v":5.6},{"x":12.9,"y":1,"v":5.5},{"x":12.9,"y":14,"v":5.5},{"x":12.9,"y":28,"v":5.5},{"x":12.9,"y":38,"v":5.6},{"x":13.5,"y":1,"v":5.5},{"x":13.5,"y":12,"v":5.4},{"x":13.5,"y":24,"v":5.4},{"x":13.5,"y":36,"v":5.6},{"x":13.5,"y":45,"v":5.6},{"x":14,"y":1,"v":5.5},{"x":14,"y":14,"v":5.4},{"x":14,"y":28,"v":5.4},{"x":14,"y":42,"v":5.6},{"x":14,"y":50,"v":5.7},{"x":14,"y":55,"v":5.7},{"x":14.5,"y":2,"v":5.4},{"x":14.5,"y":14,"v":5.4},{"x":14.5,"y":26,"v":5.4},{"x":14.5,"y":42,"v":5.4},{"x":15,"y":2,"v":5.3},{"x":15,"y":16,"v":5.3},{"x":15,"y":30,"v":5.3},{"x":15,"y":43,"v":5.2},{"x":15.6,"y":1,"v":5.3},{"x":15.6,"y":12,"v":5.3},{"x":15.6,"y":26,"v":5.3},{"x":15.6,"y":42,"v":5.2},{"x":16.2,"y":1,"v":5.3},{"x":16.2,"y":14,"v":5.3},{"x":16.2,"y":28,"v":5.3},{"x":16.2,"y":42,"v":5.2},{"x":16.8,"y":1,"v":5.3},{"x":16.8,"y":13,"v":5.3},{"x":16.8,"y":28,"v":5.3},{"x":16.8,"y":42,"v":5.2},{"x":17.4,"y":1,"v":5.3},{"x":17.4,"y":14,"v":5.3},{"x":17.4,"y":27,"v":5.3},{"x":17.4,"y":39,"v":5.3},{"x":17.9,"y":1,"v":5.3},{"x":17.9,"y":12,"v":5.3},{"x":17.9,"y":24,"v":5.3},{"x":17.9,"y":37,"v":5.3}]
},
"hconcat":[{"spacing":56.7,"hconcat":[{"spacing":54,"hconcat":[
{"spacing":21.5,"vconcat":[
{"width":318,"height":275,"layer":[
{"data":{"name":"cells"},"transform":[{"filter":"datum.p==0"}],"mark":{"type":"rect","strokeWidth":0.5},"encoding":{"x":{"field":"x","type":"quantitative","scale":{"domain":[-0.14,18.92],"nice":false,"zero":false},"axis":{"labels":false}},"x2":{"field":"x2"},"y":{"field":"y","type":"quantitative","scale":{"domain":[-14,94],"nice":false,"zero":false,"reverse":true},"axis":{"labelExpr":"datum.value%20==0?datum.label:''"}},"y2":{"field":"y2"},"color":{"field":"v","type":"quantitative","scale":{"domain":[0,1.5,4.5,7.5,10.5,12],"range":["#00007f","#0000ff","#00ffff","#ffff00","#ff0000","#7f0000"],"interpolate":"rgb"},"legend":null},"stroke":{"field":"v","type":"quantitative","scale":{"domain":[0,1.5,4.5,7.5,10.5,12],"range":["#00007f","#0000ff","#00ffff","#ffff00","#ff0000","#7f0000"],"interpolate":"rgb"},"legend":null}}},
{"data":{"name":"mask"},"mark":{"type":"rect","fill":"white","stroke":"white","strokeWidth":1.2},"encoding":{"x":{"field":"x","type":"quantitative","axis":null},"x2":{"field":"x2"},"y":{"field":"y","type":"quantitative","axis":null},"y2":{"field":"y2"}}},
{"data":{"name":"a"},"mark":"circle","encoding":{"x":{"field":"x","type":"quantitative","axis":null},"y":{"field":"y","type":"quantitative","axis":null},"color":{"field":"v","type":"quantitative","scale":{"domain":[0,1.5,4.5,7.5,10.5,12],"range":["#00007f","#0000ff","#00ffff","#ffff00","#ff0000","#7f0000"],"interpolate":"rgb"},"legend":null}}},
{"data":{"values":[{"t":"Aug-08","x":0.8,"y":90}]},"mark":"text","encoding":{"x":{"field":"x","type":"quantitative","axis":{"orient":"top","labels":false}},"y":{"field":"y","type":"quantitative","axis":{"orient":"right","labels":false}},"text":{"field":"t"}}}
],"resolve":{"axis":{"x":"independent","y":"independent"}}},
{"width":318,"height":275,"layer":[
{"data":{"name":"cells"},"transform":[{"filter":"datum.p==4"}],"mark":{"type":"rect","strokeWidth":0.5},"encoding":{"x":{"field":"x","type":"quantitative","scale":{"domain":[-0.14,18.92],"nice":false,"zero":false},"axis":{"labelExpr":"datum.value%4==0?datum.label:''"}},"x2":{"field":"x2"},"y":{"field":"y","type":"quantitative","scale":{"domain":[-14,94],"nice":false,"zero":false,"reverse":true},"axis":{"title":"Depth (m)","titleX":-58,"titleY":34,"labelExpr":"datum.value%20==0?datum.label:''"}},"y2":{"field":"y2"},"color":{"field":"v","type":"quantitative","scale":{"domain":[0,1.5,4.5,7.5,10.5,12],"range":["#00007f","#0000ff","#00ffff","#ffff00","#ff0000","#7f0000"],"interpolate":"rgb"},"legend":null},"stroke":{"field":"v","type":"quantitative","scale":{"domain":[0,1.5,4.5,7.5,10.5,12],"range":["#00007f","#0000ff","#00ffff","#ffff00","#ff0000","#7f0000"],"interpolate":"rgb"},"legend":null}}},
{"data":{"name":"mask"},"mark":{"type":"rect","fill":"white","stroke":"white","strokeWidth":1.2},"encoding":{"x":{"field":"x","type":"quantitative","axis":null},"x2":{"field":"x2"},"y":{"field":"y","type":"quantitative","axis":null},"y2":{"field":"y2"}}},
{"data":{"name":"e"},"mark":"circle","encoding":{"x":{"field":"x","type":"quantitative","axis":null},"y":{"field":"y","type":"quantitative","axis":null},"color":{"field":"v","type":"quantitative","scale":{"domain":[0,1.5,4.5,7.5,10.5,12],"range":["#00007f","#0000ff","#00ffff","#ffff00","#ff0000","#7f0000"],"interpolate":"rgb"},"legend":null}}},
{"data":{"values":[{"t":"Jan-09","x":1,"y":90}]},"mark":"text","encoding":{"x":{"field":"x","type":"quantitative","axis":{"orient":"top","labels":false}},"y":{"field":"y","type":"quantitative","axis":{"orient":"right","labels":false}},"text":{"field":"t"}}}
],"resolve":{"axis":{"x":"independent","y":"independent"}}}
]},
{"spacing":25,"vconcat":[
{"width":318,"height":275,"layer":[
{"data":{"name":"cells"},"transform":[{"filter":"datum.p==1"}],"mark":{"type":"rect","strokeWidth":0.5},"encoding":{"x":{"field":"x","type":"quantitative","scale":{"domain":[-0.14,18.92],"nice":false,"zero":false},"axis":{"labels":false}},"x2":{"field":"x2"},"y":{"field":"y","type":"quantitative","scale":{"domain":[-14,94],"nice":false,"zero":false,"reverse":true},"axis":{"labels":false}},"y2":{"field":"y2"},"color":{"field":"v","type":"quantitative","scale":{"domain":[0,1.5,4.5,7.5,10.5,12],"range":["#00007f","#0000ff","#00ffff","#ffff00","#ff0000","#7f0000"],"interpolate":"rgb"},"legend":null},"stroke":{"field":"v","type":"quantitative","scale":{"domain":[0,1.5,4.5,7.5,10.5,12],"range":["#00007f","#0000ff","#00ffff","#ffff00","#ff0000","#7f0000"],"interpolate":"rgb"},"legend":null}}},
{"data":{"name":"mask"},"mark":{"type":"rect","fill":"white","stroke":"white","strokeWidth":1.2},"encoding":{"x":{"field":"x","type":"quantitative","axis":null},"x2":{"field":"x2"},"y":{"field":"y","type":"quantitative","axis":null},"y2":{"field":"y2"}}},
{"data":{"name":"b"},"mark":"circle","encoding":{"x":{"field":"x","type":"quantitative","axis":null},"y":{"field":"y","type":"quantitative","axis":null},"color":{"field":"v","type":"quantitative","scale":{"domain":[0,1.5,4.5,7.5,10.5,12],"range":["#00007f","#0000ff","#00ffff","#ffff00","#ff0000","#7f0000"],"interpolate":"rgb"},"legend":null}}},
{"data":{"values":[{"t":"Sep-08","x":0.84,"y":90}]},"mark":"text","encoding":{"x":{"field":"x","type":"quantitative","axis":{"orient":"top","labels":false}},"y":{"field":"y","type":"quantitative","axis":{"orient":"right","labels":false}},"text":{"field":"t"}}}
],"resolve":{"axis":{"x":"independent","y":"independent"}}},
{"width":318,"height":275,"layer":[
{"data":{"name":"cells"},"transform":[{"filter":"datum.p==5"}],"mark":{"type":"rect","strokeWidth":0.5},"encoding":{"x":{"field":"x","type":"quantitative","scale":{"domain":[-0.14,18.92],"nice":false,"zero":false},"axis":{"labelExpr":"datum.value%4==0?datum.label:''"}},"x2":{"field":"x2"},"y":{"field":"y","type":"quantitative","scale":{"domain":[-14,94],"nice":false,"zero":false,"reverse":true},"axis":{"labels":false}},"y2":{"field":"y2"},"color":{"field":"v","type":"quantitative","scale":{"domain":[0,1.5,4.5,7.5,10.5,12],"range":["#00007f","#0000ff","#00ffff","#ffff00","#ff0000","#7f0000"],"interpolate":"rgb"},"legend":null},"stroke":{"field":"v","type":"quantitative","scale":{"domain":[0,1.5,4.5,7.5,10.5,12],"range":["#00007f","#0000ff","#00ffff","#ffff00","#ff0000","#7f0000"],"interpolate":"rgb"},"legend":null}}},
{"data":{"name":"mask"},"mark":{"type":"rect","fill":"white","stroke":"white","strokeWidth":1.2},"encoding":{"x":{"field":"x","type":"quantitative","axis":null},"x2":{"field":"x2"},"y":{"field":"y","type":"quantitative","axis":null},"y2":{"field":"y2"}}},
{"data":{"name":"f"},"mark":"circle","encoding":{"x":{"field":"x","type":"quantitative","axis":null},"y":{"field":"y","type":"quantitative","axis":null},"color":{"field":"v","type":"quantitative","scale":{"domain":[0,1.5,4.5,7.5,10.5,12],"range":["#00007f","#0000ff","#00ffff","#ffff00","#ff0000","#7f0000"],"interpolate":"rgb"},"legend":null}}},
{"data":{"values":[{"t":"Feb-09","x":1.14,"y":90}]},"mark":"text","encoding":{"x":{"field":"x","type":"quantitative","axis":{"orient":"top","labels":false}},"y":{"field":"y","type":"quantitative","axis":{"orient":"right","labels":false}},"text":{"field":"t"}}}
],"resolve":{"axis":{"x":"independent","y":"independent"}}}
]}
]},
{"spacing":25,"vconcat":[
{"width":318,"height":275,"layer":[
{"data":{"name":"cells"},"transform":[{"filter":"datum.p==2"}],"mark":{"type":"rect","strokeWidth":0.5},"encoding":{"x":{"field":"x","type":"quantitative","scale":{"domain":[-0.14,18.92],"nice":false,"zero":false},"axis":{"labels":false}},"x2":{"field":"x2"},"y":{"field":"y","type":"quantitative","scale":{"domain":[-14,94],"nice":false,"zero":false,"reverse":true},"axis":{"labels":false}},"y2":{"field":"y2"},"color":{"field":"v","type":"quantitative","scale":{"domain":[0,1.5,4.5,7.5,10.5,12],"range":["#00007f","#0000ff","#00ffff","#ffff00","#ff0000","#7f0000"],"interpolate":"rgb"},"legend":null},"stroke":{"field":"v","type":"quantitative","scale":{"domain":[0,1.5,4.5,7.5,10.5,12],"range":["#00007f","#0000ff","#00ffff","#ffff00","#ff0000","#7f0000"],"interpolate":"rgb"},"legend":null}}},
{"data":{"name":"mask"},"mark":{"type":"rect","fill":"white","stroke":"white","strokeWidth":1.2},"encoding":{"x":{"field":"x","type":"quantitative","axis":null},"x2":{"field":"x2"},"y":{"field":"y","type":"quantitative","axis":null},"y2":{"field":"y2"}}},
{"data":{"name":"c"},"mark":"circle","encoding":{"x":{"field":"x","type":"quantitative","axis":null},"y":{"field":"y","type":"quantitative","axis":null},"color":{"field":"v","type":"quantitative","scale":{"domain":[0,1.5,4.5,7.5,10.5,12],"range":["#00007f","#0000ff","#00ffff","#ffff00","#ff0000","#7f0000"],"interpolate":"rgb"},"legend":null}}},
{"data":{"values":[{"t":"Oct-08","x":0.7,"y":90}]},"mark":"text","encoding":{"x":{"field":"x","type":"quantitative","axis":{"orient":"top","labels":false}},"y":{"field":"y","type":"quantitative","axis":{"orient":"right","labels":false}},"text":{"field":"t"}}}
],"resolve":{"axis":{"x":"independent","y":"independent"}}},
{"width":318,"height":275,"layer":[
{"data":{"name":"cells"},"transform":[{"filter":"datum.p==6"}],"mark":{"type":"rect","strokeWidth":0.5},"encoding":{"x":{"field":"x","type":"quantitative","scale":{"domain":[-0.14,18.92],"nice":false,"zero":false},"axis":{"labelExpr":"datum.value%4==0?datum.label:''"}},"x2":{"field":"x2"},"y":{"field":"y","type":"quantitative","scale":{"domain":[-14,94],"nice":false,"zero":false,"reverse":true},"axis":{"labels":false}},"y2":{"field":"y2"},"color":{"field":"v","type":"quantitative","scale":{"domain":[0,1.5,4.5,7.5,10.5,12],"range":["#00007f","#0000ff","#00ffff","#ffff00","#ff0000","#7f0000"],"interpolate":"rgb"},"legend":null},"stroke":{"field":"v","type":"quantitative","scale":{"domain":[0,1.5,4.5,7.5,10.5,12],"range":["#00007f","#0000ff","#00ffff","#ffff00","#ff0000","#7f0000"],"interpolate":"rgb"},"legend":null}}},
{"data":{"name":"mask"},"mark":{"type":"rect","fill":"white","stroke":"white","strokeWidth":1.2},"encoding":{"x":{"field":"x","type":"quantitative","axis":null},"x2":{"field":"x2"},"y":{"field":"y","type":"quantitative","axis":null},"y2":{"field":"y2"}}},
{"data":{"name":"g"},"mark":"circle","encoding":{"x":{"field":"x","type":"quantitative","axis":null},"y":{"field":"y","type":"quantitative","axis":null},"color":{"field":"v","type":"quantitative","scale":{"domain":[0,1.5,4.5,7.5,10.5,12],"range":["#00007f","#0000ff","#00ffff","#ffff00","#ff0000","#7f0000"],"interpolate":"rgb"},"legend":null}}},
{"data":{"values":[{"t":"Mar-09","x":0.8,"y":90}]},"mark":"text","encoding":{"x":{"field":"x","type":"quantitative","axis":{"orient":"top","labels":false}},"y":{"field":"y","type":"quantitative","axis":{"orient":"right","labels":false}},"text":{"field":"t"}}}
],"resolve":{"axis":{"x":"independent","y":"independent"}}}
]}
]},
{"spacing":13,"hconcat":[
{"spacing":25,"vconcat":[
{"width":318,"height":275,"layer":[
{"data":{"name":"cells"},"transform":[{"filter":"datum.p==3"}],"mark":{"type":"rect","strokeWidth":0.5},"encoding":{"x":{"field":"x","type":"quantitative","scale":{"domain":[-0.14,18.92],"nice":false,"zero":false},"axis":{"labels":false}},"x2":{"field":"x2"},"y":{"field":"y","type":"quantitative","scale":{"domain":[-14,94],"nice":false,"zero":false,"reverse":true},"axis":{"labels":false}},"y2":{"field":"y2"},"color":{"field":"v","type":"quantitative","scale":{"domain":[0,1.5,4.5,7.5,10.5,12],"range":["#00007f","#0000ff","#00ffff","#ffff00","#ff0000","#7f0000"],"interpolate":"rgb"},"legend":null},"stroke":{"field":"v","type":"quantitative","scale":{"domain":[0,1.5,4.5,7.5,10.5,12],"range":["#00007f","#0000ff","#00ffff","#ffff00","#ff0000","#7f0000"],"interpolate":"rgb"},"legend":null}}},
{"data":{"name":"mask"},"mark":{"type":"rect","fill":"white","stroke":"white","strokeWidth":1.2},"encoding":{"x":{"field":"x","type":"quantitative","axis":null},"x2":{"field":"x2"},"y":{"field":"y","type":"quantitative","axis":null},"y2":{"field":"y2"}}},
{"data":{"name":"d"},"mark":"circle","encoding":{"x":{"field":"x","type":"quantitative","axis":null},"y":{"field":"y","type":"quantitative","axis":null},"color":{"field":"v","type":"quantitative","scale":{"domain":[0,1.5,4.5,7.5,10.5,12],"range":["#00007f","#0000ff","#00ffff","#ffff00","#ff0000","#7f0000"],"interpolate":"rgb"},"legend":null}}},
{"data":{"values":[{"t":"Nov-08","x":0.62,"y":90}]},"mark":"text","encoding":{"x":{"field":"x","type":"quantitative","axis":{"orient":"top","labels":false}},"y":{"field":"y","type":"quantitative","axis":{"orient":"right","labels":false}},"text":{"field":"t"}}}
],"resolve":{"axis":{"x":"independent","y":"independent"}}},
{"width":318,"height":275,"data":{"values":[{"x":0},{"x":16}]},"mark":{"type":"point","opacity":0},"encoding":{"x":{"field":"x","type":"quantitative","scale":{"domain":[-0.14,18.92],"nice":false,"zero":false},"axis":{"domain":false,"ticks":false,"labelExpr":"datum.value%4==0?datum.label:''"}}}}
]},
{"width":16,"height":275,"view":{"stroke":"#333333","strokeWidth":0.6},"data":{"name":"bar"},"mark":{"type":"rect","strokeWidth":0.5},"encoding":{"y":{"field":"a","type":"quantitative","scale":{"domain":[0,12],"nice":false,"zero":false},"axis":{"orient":"right","values":[0,2,4,6,8,10,12],"domain":false,"ticks":false,"labelPadding":6,"labelOffset":0,"zindex":0}},"y2":{"field":"b"},"color":{"field":"v","type":"quantitative","scale":{"domain":[0,1.5,4.5,7.5,10.5,12],"range":["#00007f","#0000ff","#00ffff","#ffff00","#ff0000","#7f0000"],"interpolate":"rgb"},"legend":null},"stroke":{"field":"v","type":"quantitative","scale":{"domain":[0,1.5,4.5,7.5,10.5,12],"range":["#00007f","#0000ff","#00ffff","#ffff00","#ff0000","#7f0000"],"interpolate":"rgb"},"legend":null}}}
]}
]}
